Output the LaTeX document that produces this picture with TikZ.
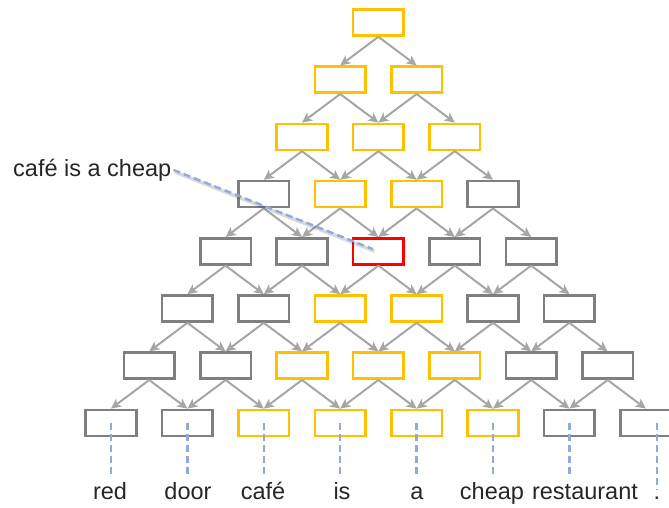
\documentclass[tikz,border=0pt]{standalone}
\usepackage{fontspec}
\setmainfont{Liberation Sans}
\usetikzlibrary{arrows.meta}
\definecolor{spangray}{HTML}{7F7F7F}
\definecolor{spangold}{HTML}{FFC000}
\definecolor{spanred}{HTML}{FF0000}
\definecolor{arrowgray}{HTML}{A6A6A6}
\definecolor{linkblue}{HTML}{8FAADC}
\begin{document}
\begin{tikzpicture}[x=1pt,y=-1pt]
\tikzstyle{span}=[draw,fill=white,line width=2.6pt,minimum width=50.5pt,minimum height=26pt,inner sep=0pt]
\tikzstyle{off}=[span,draw=spangray]
\tikzstyle{on}=[span,draw=spangold]
\tikzstyle{hit}=[span,draw=spanred]
\tikzstyle{down}=[draw=arrowgray,line width=2pt,-{Stealth[length=10pt,width=9.5pt,inset=2.5pt]}]
\tikzstyle{link}=[draw=linkblue,line width=2.4pt,dash pattern=on 7pt off 4pt]
\tikzstyle{word}=[font=\fontsize{23.5}{28}\selectfont,text=black!85,anchor=base,inner xsep=0pt,inner ysep=7pt,text height=17pt,text depth=5pt]
\useasboundingbox (0,0) rectangle (669,508);
% row 1
\node[on] (P11) at (378.4, 22.5) {};
% row 2
\node[on] (P21) at (340.2, 79.7) {};
\node[on] (P22) at (416.6, 79.7) {};
% row 3
\node[on] (P31) at (302.0, 136.9) {};
\node[on] (P32) at (378.4, 136.9) {};
\node[on] (P33) at (454.8, 136.9) {};
% row 4
\node[off] (P41) at (263.8, 194.1) {};
\node[on] (P42) at (340.2, 194.1) {};
\node[on] (P43) at (416.6, 194.1) {};
\node[off] (P44) at (493.0, 194.1) {};
% row 5
\node[off] (P51) at (225.6, 251.3) {};
\node[off] (P52) at (302.0, 251.3) {};
\node[hit] (P53) at (378.4, 251.3) {};
\node[off] (P54) at (454.8, 251.3) {};
\node[off] (P55) at (531.2, 251.3) {};
% row 6
\node[off] (P61) at (187.4, 308.5) {};
\node[off] (P62) at (263.8, 308.5) {};
\node[on] (P63) at (340.2, 308.5) {};
\node[on] (P64) at (416.6, 308.5) {};
\node[off] (P65) at (493.0, 308.5) {};
\node[off] (P66) at (569.4, 308.5) {};
% row 7
\node[off] (P71) at (149.2, 365.7) {};
\node[off] (P72) at (225.6, 365.7) {};
\node[on] (P73) at (302.0, 365.7) {};
\node[on] (P74) at (378.4, 365.7) {};
\node[on] (P75) at (454.8, 365.7) {};
\node[off] (P76) at (531.2, 365.7) {};
\node[off] (P77) at (607.6, 365.7) {};
% row 8
\node[off] (P81) at (111.0, 422.9) {};
\node[off] (P82) at (187.4, 422.9) {};
\node[on] (P83) at (263.8, 422.9) {};
\node[on] (P84) at (340.2, 422.9) {};
\node[on] (P85) at (416.6, 422.9) {};
\node[on] (P86) at (493.0, 422.9) {};
\node[off] (P87) at (569.4, 422.9) {};
\node[off] (P88) at (645.8, 422.9) {};
% arrows
\path (P11.south) edge[down] (P21.north) edge[down] (P22.north);
\path (P21.south) edge[down] (P31.north) edge[down] (P32.north);
\path (P22.south) edge[down] (P32.north) edge[down] (P33.north);
\path (P31.south) edge[down] (P41.north) edge[down] (P42.north);
\path (P32.south) edge[down] (P42.north) edge[down] (P43.north);
\path (P33.south) edge[down] (P43.north) edge[down] (P44.north);
\path (P41.south) edge[down] (P51.north) edge[down] (P52.north);
\path (P42.south) edge[down] (P52.north) edge[down] (P53.north);
\path (P43.south) edge[down] (P53.north) edge[down] (P54.north);
\path (P44.south) edge[down] (P54.north) edge[down] (P55.north);
\path (P51.south) edge[down] (P61.north) edge[down] (P62.north);
\path (P52.south) edge[down] (P62.north) edge[down] (P63.north);
\path (P53.south) edge[down] (P63.north) edge[down] (P64.north);
\path (P54.south) edge[down] (P64.north) edge[down] (P65.north);
\path (P55.south) edge[down] (P65.north) edge[down] (P66.north);
\path (P61.south) edge[down] (P71.north) edge[down] (P72.north);
\path (P62.south) edge[down] (P72.north) edge[down] (P73.north);
\path (P63.south) edge[down] (P73.north) edge[down] (P74.north);
\path (P64.south) edge[down] (P74.north) edge[down] (P75.north);
\path (P65.south) edge[down] (P75.north) edge[down] (P76.north);
\path (P66.south) edge[down] (P76.north) edge[down] (P77.north);
\path (P71.south) edge[down] (P81.north) edge[down] (P82.north);
\path (P72.south) edge[down] (P82.north) edge[down] (P83.north);
\path (P73.south) edge[down] (P83.north) edge[down] (P84.north);
\path (P74.south) edge[down] (P84.north) edge[down] (P85.north);
\path (P75.south) edge[down] (P85.north) edge[down] (P86.north);
\path (P76.south) edge[down] (P86.north) edge[down] (P87.north);
\path (P77.south) edge[down] (P87.north) edge[down] (P88.north);
% words
\node[word] (W1) at (110,499) {red};
\node[word] (W2) at (188,499) {door};
\node[word] (W3) at (263,499) {café};
\node[word] (W4) at (342,499) {is};
\node[word] (W5) at (417,499) {a};
\node[word] (W6) at (492,499) {cheap};
\node[word] (W7) at (585,499) {restaurant};
\node[word,text height=2pt] (W8) at (657,499) {.};
\draw[link] (P81.center) -- (P81 |- W1.north);
\draw[link] (P82.center) -- (P82 |- W2.north);
\draw[link] (P83.center) -- (P83 |- W3.north);
\draw[link] (P84.center) -- (P84 |- W4.north);
\draw[link] (P85.center) -- (P85 |- W5.north);
\draw[link] (P86.center) -- (P86 |- W6.north);
\draw[link] (P87.center) -- (P87 |- W7.north);
\draw[link] (W8.north |- P88.center) -- (W8.north);
% span label
\node[word,anchor=base west,inner sep=2pt] (L) at (11,176) {café is a cheap};
\draw[line width=3.5pt,black,opacity=0.15,shorten >=6pt,transform canvas={xshift=1.5pt,yshift=-2pt}] (L.east) -- (P53.center);
\draw[link,shorten >=6pt] (L.east) -- (P53.center);
\end{tikzpicture}
\end{document}
